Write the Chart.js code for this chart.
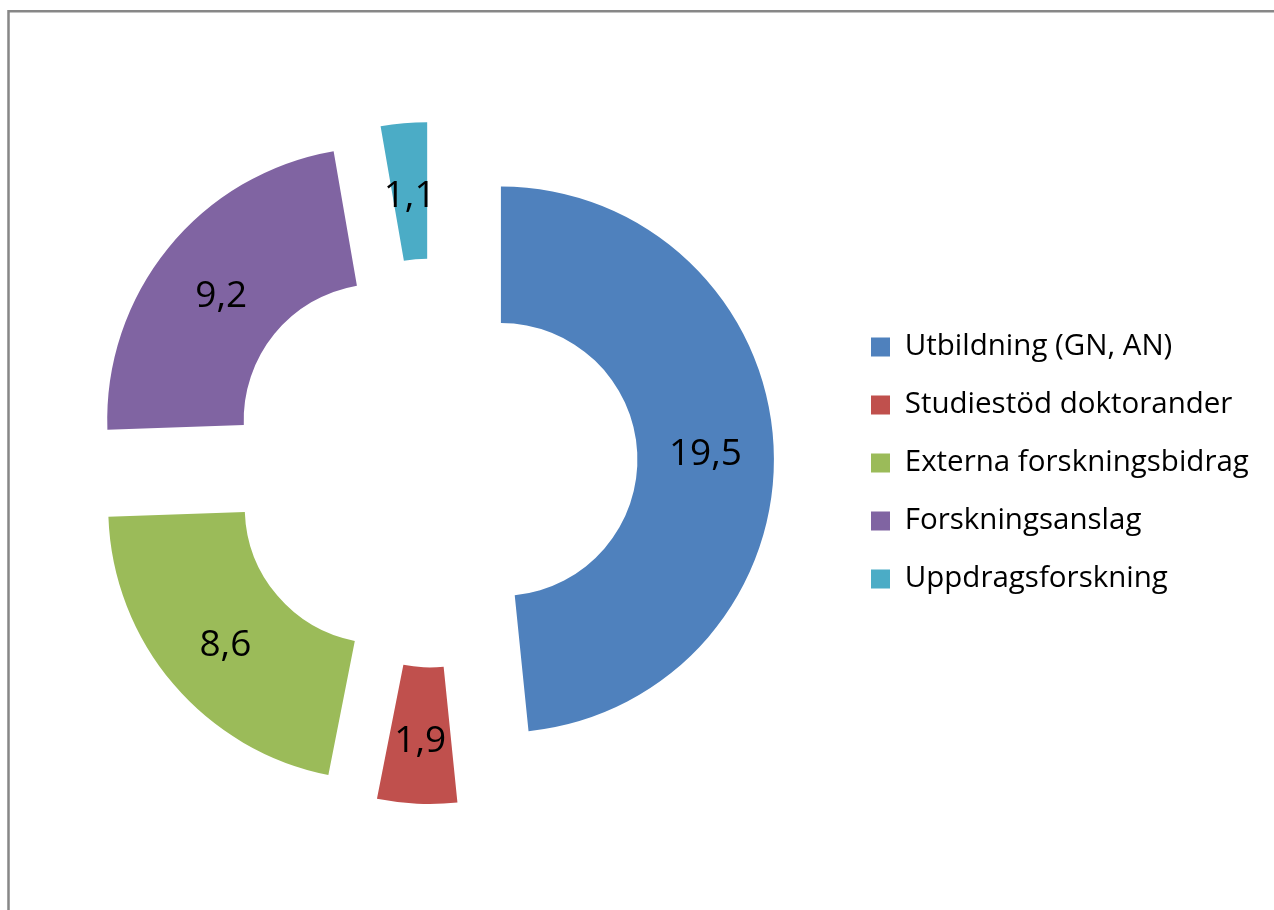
<!DOCTYPE html>
<html><head><meta charset="utf-8">
<script src="https://cdn.jsdelivr.net/npm/chart.js@4/dist/chart.umd.min.js"></script>
<style>html,body{margin:0;padding:0;background:#fff}canvas{display:block}</style>
</head><body>
<canvas id="c" width="1274" height="910"></canvas>
<script>
const categories = ['Utbildning (GN, AN)', 'Studiestöd doktorander', 'Externa forskningsbidrag', 'Forskningsanslag', 'Uppdragsforskning'];
const values = [19.5, 1.9, 8.6, 9.2, 1.1];
const valueLabels = ['19,5', '1,9', '8,6', '9,2', '1,1'];
const colors = ['#4F81BD', '#C0504D', '#9BBB59', '#8064A2', '#4BACC6'];

const FONT = '"Open Sans", Lato, sans-serif';
const LEGEND_SIZE = 29.5;
const LABEL_SIZE = 37;
const EXPLODE = 68;
const OUTER_R = 273;
const CENTER_X = 433, CENTER_Y = 463;
const LEGEND_BOX_X = 871;
const LEGEND_PAD = 28.5;
const BOX = 19;
const W = 1274, H = 910;

const mctx = document.createElement('canvas').getContext('2d');
mctx.font = LEGEND_SIZE + 'px ' + FONT;
const maxTextW = Math.max(...categories.map(t => mctx.measureText(t).width));
const legendLeft = LEGEND_BOX_X - LEGEND_PAD;
const legendWidth = LEGEND_PAD + BOX + LEGEND_SIZE / 2 + maxTextW + 10;
const padRight = Math.max(0, W - legendLeft - legendWidth);
const padLeft = 2 * CENTER_X - legendLeft;
const padBottom = 24;
const padTop = 2 * (CENTER_Y - H / 2) + padBottom;

const explode = {
  id: 'explode',
  afterDatasetUpdate(chart, args) {
    const meta = chart.getDatasetMeta(args.index);
    meta.data.forEach(arc => {
      const half = (arc.startAngle + arc.endAngle) / 2;
      arc.x += Math.cos(half) * EXPLODE;
      arc.y += Math.sin(half) * EXPLODE;
    });
  }
};

const valueText = {
  id: 'valueText',
  afterDatasetsDraw(chart) {
    const ctx = chart.ctx;
    const meta = chart.getDatasetMeta(0);
    ctx.save();
    ctx.font = LABEL_SIZE + 'px ' + FONT;
    ctx.fillStyle = '#000';
    ctx.textAlign = 'center';
    ctx.textBaseline = 'alphabetic';
    const shift = 0.357 * LABEL_SIZE + 3;
    meta.data.forEach((arc, i) => {
      const p = arc.getCenterPoint();
      ctx.fillText(valueLabels[i], p.x, p.y + shift);
    });
    ctx.restore();
  }
};

const frame = {
  id: 'frame',
  beforeDraw(chart) {
    const ctx = chart.ctx;
    ctx.save();
    ctx.strokeStyle = '#878787';
    ctx.lineWidth = 2.5;
    ctx.beginPath();
    ctx.moveTo(8.5, H + 5);
    ctx.lineTo(8.5, 11.2);
    ctx.lineTo(W + 5, 11.2);
    ctx.stroke();
    ctx.restore();
  }
};

new Chart(document.getElementById('c'), {
  type: 'doughnut',
  data: {
    labels: categories,
    datasets: [{
      data: values,
      backgroundColor: colors,
      borderWidth: 0,
      offset: 0
    }]
  },
  options: {
    responsive: false,
    animation: false,
    radius: OUTER_R,
    cutout: '50%',
    layout: { padding: { left: padLeft, right: padRight, top: padTop, bottom: padBottom } },
    plugins: {
      tooltip: { enabled: false },
      legend: {
        position: 'right',
        align: 'center',
        labels: {
          boxWidth: BOX,
          boxHeight: BOX,
          padding: LEGEND_PAD,
          color: '#000',
          font: { family: FONT, size: LEGEND_SIZE }
        }
      }
    }
  },
  plugins: [explode, valueText, frame]
});
</script>
</body></html>
